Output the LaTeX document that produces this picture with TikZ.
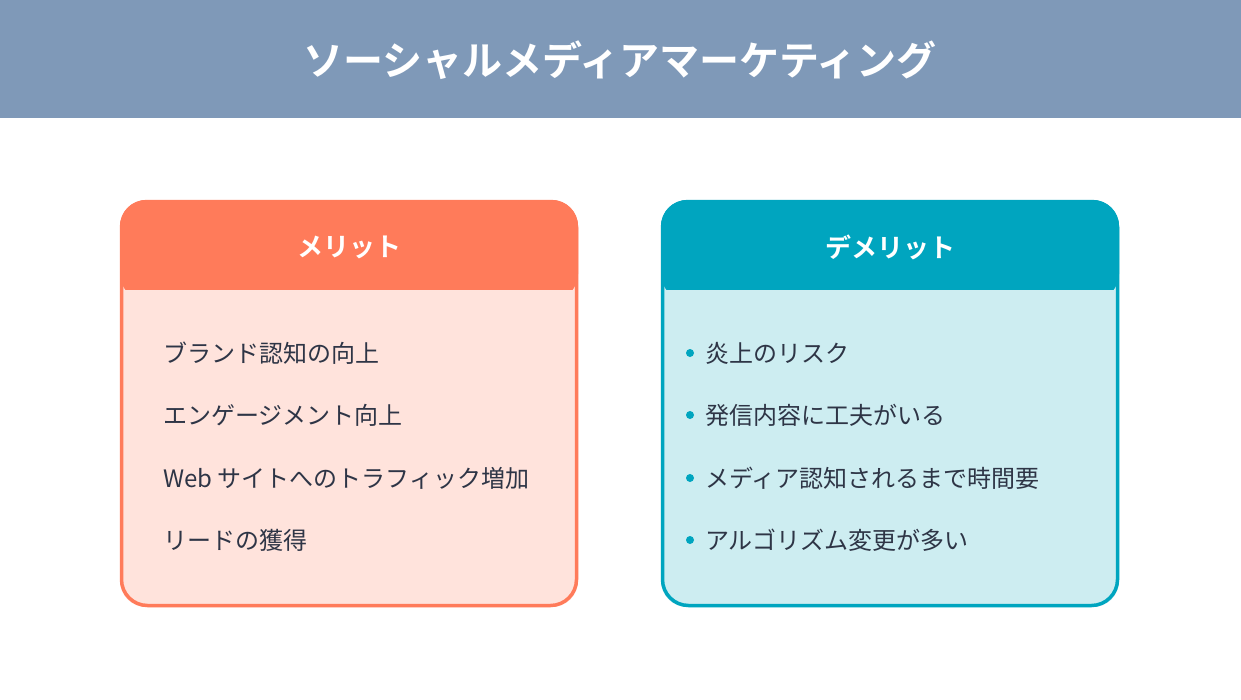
\documentclass[tikz,border=0pt]{standalone}
\usepackage{fontspec}
\setmainfont{Noto Sans CJK JP}
\newfontfamily\jpb{Noto Sans CJK JP Bold}
\definecolor{band}{HTML}{7F99B8}
\definecolor{org}{HTML}{FF7B5A}
\definecolor{orgl}{HTML}{FFE3DC}
\definecolor{tea}{HTML}{00A5BF}
\definecolor{teal}{HTML}{CDEDF1}
\definecolor{txt}{HTML}{2E3546}
\tikzset{item/.style={anchor=west,font=\fontsize{24}{28}\selectfont,text=txt,inner sep=0pt},
 boxtitle/.style={text=white,font=\jpb\fontsize{26}{30}\selectfont}}
\begin{document}
\begin{tikzpicture}[x=1pt,y=-1pt]
\useasboundingbox (0,0) rectangle (1241,699);
\fill[white] (0,0) rectangle (1241,699);
\fill[band] (0,0) rectangle (1241,118);
\node[text=white,font=\jpb\fontsize{40}{46}\selectfont] (title) at (620,60) {ソーシャルメディアマーケティング};
% left
\fill[orgl,rounded corners=26] (120,200) rectangle (578,607);
\fill[org,rounded corners=26] (120,200) rectangle (578,300);
\fill[orgl] (122,290) rectangle (576,320);
\draw[org,line width=3.5,rounded corners=26] (121.5,201.5) rectangle (576.5,605.5);
\node[boxtitle] (lt) at (349,247) {メリット};
\node[item] (l1) at (163,353) {ブランド認知の向上};
\node[item] (l2) at (163,415) {エンゲージメント向上};
\node[item] (l3) at (163,478) {Web サイトへのトラフィック増加};
\node[item] (l4) at (163,540) {リードの獲得};
% right
\fill[teal,rounded corners=26] (661,200) rectangle (1119,607);
\fill[tea,rounded corners=26] (661,200) rectangle (1119,300);
\fill[teal] (663,290) rectangle (1117,320);
\draw[tea,line width=3.5,rounded corners=26] (662.5,201.5) rectangle (1117.5,605.5);
\node[boxtitle] (rt) at (890,247) {デメリット};
\foreach \y/\t [count=\i] in {353/炎上のリスク,415/発信内容に工夫がいる,478/メディア認知されるまで時間要,540/アルゴリズム変更が多い}{
  \fill[tea] (690,\y) circle (4);
  \node[item] (r\i) at (705,\y) {\t};
}
\end{tikzpicture}
\end{document}
